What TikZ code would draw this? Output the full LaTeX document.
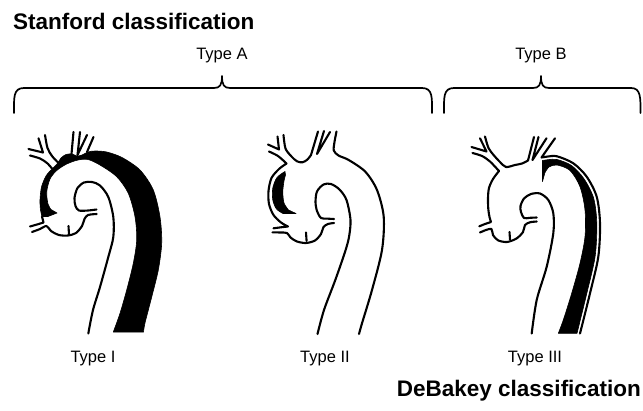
\documentclass[tikz,border=0pt]{standalone}
\usepackage{fontspec}
\newfontfamily\arialf{Liberation Sans}
\newcommand\mytypefont{\arialf\fontsize{16.5}{18}\selectfont}
\newcommand\mytitlefont{\arialf\bfseries\fontsize{22.5}{24}\selectfont}
\tikzset{
  wall/.style={line width=2.1pt, line cap=round, line join=round},
  lumen/.style={fill=black, draw=black, line width=0.6pt, line join=round},
  typelbl/.style={font=\mytypefont, inner sep=0pt},
  titletxt/.style={font=\mytitlefont, inner sep=0pt},
  bracket/.style={line width=1.7pt, line cap=round, line join=round},
}
\begin{document}
\begin{tikzpicture}[x=1pt,y=-1pt]
\useasboundingbox (0,0) rectangle (643,410);

% ---------- titles and labels ----------
\node[titletxt, anchor=base west] (stanford) at (13,29) {Stanford classification};
\node[typelbl, anchor=base] (typeA) at (222,59) {Type A};
\node[typelbl, anchor=base] (typeB) at (541,59) {Type B};
\node[typelbl, anchor=base] (typeI) at (93,362) {Type I};
\node[typelbl, anchor=base] (typeII) at (325,362) {Type II};
\node[typelbl, anchor=base] (typeIII) at (535,362) {Type III};
\node[titletxt, anchor=base east] (debakey) at (641,396) {DeBakey classification};

% ---------- braces ----------
\draw[bracket] (14,113) .. controls (14,98) and (13,88) .. (24,88) -- (214,88)
  .. controls (220,88) and (222,85) .. (222,76)
  .. controls (222,85) and (224,88) .. (230,88) -- (422,88)
  .. controls (433,88) and (432,98) .. (432,113);
\draw[bracket] (444,113) .. controls (444,98) and (443,88) .. (454,88) -- (533,88)
  .. controls (539,88) and (541,85) .. (541,76)
  .. controls (541,85) and (543,88) .. (549,88) -- (631,88)
  .. controls (641,88) and (640.5,98) .. (640.5,113);

% ---------- Type I ----------
\fill[lumen] plot[smooth] coordinates {(143.5,332) (145,323) (151.7,297) (158.3,270) (161.7,243) (160,217) (153.3,190) (140,170) (122,157.5) (106.7,152) (95,151) (88,152) (82,155) (77,156) (72,154) (66,154.5) (61,158) (57,164) (52,169) (46,176) (41.5,187) (40,200) (40.5,210) (42,216.5)}
  -- (48,216.5) -- (57,213)
  -- plot[smooth] coordinates {(51,209.5) (48,204) (46.7,192) (50,179) (56.7,170.5) (66.7,164) (78,160) (88,159.5) (100,165) (116.7,176.7) (128.3,193.3) (135,216.7) (136.7,240) (133.3,263.3) (126.7,290) (120,313.3) (113.3,332)} -- cycle;
\draw[wall] plot[smooth] coordinates {(30,155.5) (40,158.5) (47,163) (52,168.5)};
\draw[wall] (28.5,149) -- (43,152.5) -- (38.5,138.3);
\draw[wall] plot[smooth] coordinates {(45,135) (47.5,148) (52,156) (58,162.5)};
\draw[wall] (71.5,154) -- (73.5,132);
\draw[wall] (80,132) -- (77.5,155) -- (87,135);
\draw[wall] (93.5,137) -- (87,152);
\draw[wall] plot[smooth] coordinates {(88.3,333.5) (93,310) (100,287) (108.3,257) (113.3,237) (113.3,217) (108.3,197) (100,185.5) (92,182) (84,182.5) (77.5,188) (74.5,198) (75.5,206) (79,210.5) (88,210.5) (96.5,209.5)};
\draw[wall] plot[smooth] coordinates {(96.7,214) (88,215) (84.5,219) (82,226) (76,233) (68,235.5) (59,235) (51,231) (46.5,226) (40,229) (32,232)};
\draw[wall] plot[smooth] coordinates {(30,226.5) (37,224.5) (43.5,222.5)} -- (42,216.5);
\draw[wall] (68.5,226) -- (69,234.5);

% ---------- Type II ----------
\fill[lumen] plot[smooth] coordinates {(285,171.5) (277,177.5) (272.8,188) (272.8,200) (276.5,209) (283,213.5)}
  -- (296,213.5)
  -- plot[smooth] coordinates {(288.5,210) (284,203) (282.8,192) (284,181) (285.5,175)} -- cycle;
\draw[wall] plot[smooth] coordinates {(269,151.5) (278,156) (286.5,163.5)};
\draw[wall] plot[smooth] coordinates {(286.5,163.5) (279,169) (271.5,178) (268.5,191) (269,204) (273.5,215) (281,222.5) (288,226.5)} -- (281,227.3) -- (273.5,228.3);
\draw[wall] plot[smooth] coordinates {(272.5,232.3) (280,232.5) (287,233) (290.5,237.5) (297,241.5) (306,243) (315,240.5) (321,234) (323.5,227) (328,224) (334,223)};
\draw[wall] plot[smooth] coordinates {(334,219) (327,218.6) (321,218) (317,211) (315.5,202) (317,191.5) (323.5,184.5) (331,184) (339.5,189.5) (346.5,200) (350.5,220) (349,237) (345,252) (335.3,280) (324,310) (317.5,334)};
\draw[wall] plot[smooth] coordinates {(336.5,131.5) (334.5,142) (333.8,150.5) (338.5,155.5) (348.7,160) (365.3,171.7) (377,190) (383.7,216.7) (382,250) (372,290) (362,323.3) (359,334)};
\draw[wall] plot[smooth] coordinates {(283.5,135) (285.5,148.5) (291.5,156.5) (297,161.3) (302.5,162.3) (307.5,159.5) (311,155)} -- (318,131.5);
\draw[wall] (324,131) -- (317,154) -- (330,132);
\draw[wall] (268,144.5) -- (279,149.5) -- (277.5,136.5);
\draw[wall] (306,232.5) -- (306.6,241);

% ---------- Type III ----------
\fill[lumen] plot[smooth] coordinates {(542.5,160.5) (548,159.7) (557,159.5) (571.5,165.5) (584,178.8) (593.6,198) (596.8,223.3) (595.1,256.6) (586.9,293) (577,333.3)}
  -- plot[smooth] coordinates {(558.3,333.3) (563.3,320) (571.7,293.3) (580,263.3) (585,236.7) (585,210) (580,186.7) (570,170.5) (557,165) (549,167) (544.8,173)}
  -- (542.5,181.5) -- cycle;
\draw[wall] (555,138.3) -- plot[smooth] coordinates {(541.5,157.5) (548,156.5) (557,156.3) (573.3,163.3) (586.7,176.7) (596.7,196.7) (600,223.3) (598.3,256.7) (590,293.3) (580,333.5)};
\draw[wall] (538.5,137) -- (532.5,160) -- (546.5,138.3);
\draw[wall] plot[smooth] coordinates {(485,136.5) (488.5,148) (494,155.5) (500,162) (506,167) (515,165) (522,163.5) (528,160.5)} -- (534,137);
\draw[wall] plot[smooth] coordinates {(472.5,153) (482,156) (490,161.5) (499,171)};
\draw[wall] plot[smooth] coordinates {(499,171) (493,179) (489,188) (488,198) (488.3,209) (489.5,217) (491,222)} -- (485,224) -- (479.3,226.3);
\draw[wall] (471.5,147) -- (486.5,151.5) -- (480,138.3);
\draw[wall] plot[smooth] coordinates {(480,232.5) (486,230) (491.5,229) (493,235) (498,240.3) (507,242) (516.5,238.5) (523,232) (525,225) (530,222.3) (536.7,221.5)};
\draw[wall] plot[smooth] coordinates {(536.7,217.5) (530,217.8) (524,218) (521,212) (520.5,206) (524,198.5) (531,194) (540,193.5) (548.3,200) (553.3,213.3) (553.3,233.3) (546.7,266.7) (536.7,300) (531.7,333.5)};
\draw[wall] (509.5,232) -- (510,239.5);
\end{tikzpicture}
\end{document}
